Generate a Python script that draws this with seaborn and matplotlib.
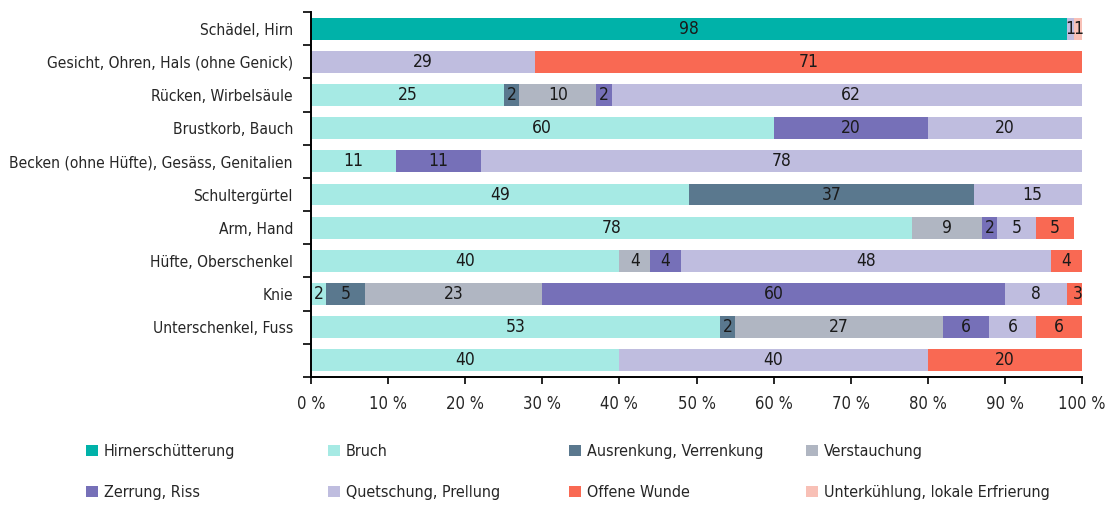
import numpy as np
import pandas as pd
import seaborn as sns
import matplotlib.pyplot as plt
from matplotlib.patches import Patch
from matplotlib.ticker import FixedLocator

sns.set_style("ticks")
plt.rcParams['font.family'] = ['DejaVu Sans']
plt.rcParams['font.stretch'] = 'condensed'

body_parts = [
    "Schädel, Hirn",
    "Gesicht, Ohren, Hals (ohne Genick)",
    "Rücken, Wirbelsäule",
    "Brustkorb, Bauch",
    "Becken (ohne Hüfte), Gesäss, Genitalien",
    "Schultergürtel",
    "Arm, Hand",
    "Hüfte, Oberschenkel",
    "Knie",
    "Unterschenkel, Fuss",
    " ",
]

injury_types = [
    "Hirnerschütterung", "Bruch", "Ausrenkung, Verrenkung", "Verstauchung",
    "Zerrung, Riss", "Quetschung, Prellung", "Offene Wunde",
    "Unterkühlung, lokale Erfrierung",
]

hirnerschuetterung = [98, 0, 0, 0, 0, 0, 0, 0, 0, 0, 0]
bruch              = [0, 0, 25, 60, 11, 49, 78, 40, 2, 53, 40]
ausrenkung         = [0, 0, 2, 0, 0, 37, 0, 0, 5, 2, 0]
verstauchung       = [0, 0, 10, 0, 0, 0, 9, 4, 23, 27, 0]
zerrung            = [0, 0, 2, 20, 11, 0, 2, 4, 60, 6, 0]
quetschung         = [1, 29, 62, 20, 78, 15, 5, 48, 8, 6, 40]
offene_wunde       = [0, 71, 0, 0, 0, 0, 5, 4, 3, 6, 20]
unterkuehlung      = [1, 0, 0, 0, 0, 0, 0, 0, 0, 0, 0]

series = [hirnerschuetterung, bruch, ausrenkung, verstauchung,
          zerrung, quetschung, offene_wunde, unterkuehlung]

colors = ["#00B2A9", "#A6EAE4", "#5A788E", "#B0B6C2",
          "#7670B8", "#BFBDDF", "#F96953", "#F8C0B6"]

values = np.array(series, dtype=float)
cum = np.cumsum(values, axis=0)
starts = cum - values

fig = plt.figure(figsize=(11.09, 5.05), dpi=100)
ax = fig.add_axes([311 / 1109, 1 - 377 / 505, (1082 - 311) / 1109, (377 - 12) / 505])

# Stacked bars: draw cumulative totals from the last layer to the first
for i in range(len(series) - 1, -1, -1):
    df = pd.DataFrame({"part": body_parts, "total": cum[i]})
    sns.barplot(data=df, x="total", y="part", order=body_parts, orient="h",
                color=colors[i], saturation=1, width=0.66, linewidth=0, ax=ax)

# Value labels in each segment
for i in range(len(series)):
    for j in range(len(body_parts)):
        v = values[i, j]
        if v > 0:
            ax.text(starts[i, j] + v / 2, j, f"{int(v)}", ha="center", va="center",
                    fontsize=12.5, color="#1a1a1a")

ax.set_xlim(0, 100)
ax.set_ylim(len(body_parts) - 0.5, -0.5)
ax.set_xlabel("")
ax.set_ylabel("")
ax.set_xticks(np.arange(0, 101, 10))
ax.set_xticklabels([f"{t} %" for t in range(0, 101, 10)], fontsize=12)
ax.tick_params(axis="x", length=5, width=1.2, pad=8, color="black")
ax.tick_params(axis="y", which="major", length=0, pad=13, labelsize=11.2)
ax.yaxis.set_minor_locator(FixedLocator(np.arange(-0.5, len(body_parts), 1)))
ax.tick_params(axis="y", which="minor", length=6, width=1.2, color="black")

for side in ["top", "right"]:
    ax.spines[side].set_visible(False)
for side in ["left", "bottom"]:
    ax.spines[side].set_linewidth(1.4)
    ax.spines[side].set_color("black")

# Legend: four columns of two entries each
handles = [Patch(facecolor=c, edgecolor="none", label=l) for c, l in zip(colors, injury_types)]
col_x = [80 / 1109, 322 / 1109, 563 / 1109, 800 / 1109]
for k in range(4):
    leg = fig.legend(handles=[handles[k], handles[k + 4]], loc="upper left",
                     bbox_to_anchor=(col_x[k], 1 - 438 / 505), frameon=False,
                     fontsize=11.5, handlelength=0.7, handleheight=0.7,
                     handletextpad=0.4, labelspacing=1.6, borderaxespad=0)

fig.savefig("out.png", dpi=100)
